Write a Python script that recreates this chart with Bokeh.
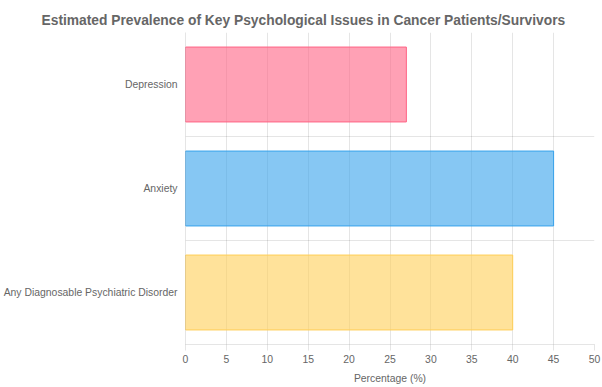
from bokeh.plotting import figure
from bokeh.models import ColumnDataSource, Range1d, FactorRange, FixedTicker, Title
from bokeh.embed import file_html
from bokeh.resources import INLINE

# ---- data ----
categories = ["Depression", "Anxiety", "Any Diagnosable Psychiatric Disorder"]
values = [27, 45, 40]
fill_colors = ["rgba(255, 99, 132, 0.6)", "rgba(54, 162, 235, 0.6)", "rgba(255, 206, 86, 0.6)"]
line_colors = ["rgb(255, 99, 132)", "rgb(54, 162, 235)", "rgb(255, 206, 86)"]
x_ticks = [0, 5, 10, 15, 20, 25, 30, 35, 40, 45, 50]
title_text = "Estimated Prevalence of Key Psychological Issues in Cancer Patients/Survivors"
x_label = "Percentage (%)"

FONT = "Liberation Sans"
TXT = "#666666"
GRID = "rgba(0, 0, 0, 0.1)"
TICK_FS = "10.4px"

order = list(reversed(categories))  # top to bottom as in the reference
src = ColumnDataSource(dict(cat=categories, val=values, fill=fill_colors, line=line_colors))

p = figure(width=602, height=387, output_backend="svg", toolbar_location=None,
           y_range=FactorRange(*order, range_padding=0), x_range=Range1d(0, 50),
           min_border_left=184, min_border_right=8, min_border_top=32, min_border_bottom=43)
p.title = None
t = Title(text=title_text, text_font=FONT, text_font_size="13.8px", text_font_style="bold",
          text_color=TXT, align="left", offset=-144, standoff=5, vertical_align="top")
p.add_layout(t, "above")

p.hbar(y="cat", right="val", left=0, height=0.72, source=src,
       fill_color="fill", line_color="line", line_width=1)

p.outline_line_color = None
p.background_fill_color = "white"
p.border_fill_color = "white"

# x axis
p.xaxis.ticker = FixedTicker(ticks=x_ticks)
p.xaxis.axis_label = x_label
p.xaxis.axis_label_text_font = FONT
p.xaxis.axis_label_text_font_size = TICK_FS
p.xaxis.axis_label_text_font_style = "normal"
p.xaxis.axis_label_text_color = TXT
p.xaxis.axis_label_standoff = 7
p.xaxis.major_label_text_font = FONT
p.xaxis.major_label_text_font_size = TICK_FS
p.xaxis.major_label_text_color = TXT
p.xaxis.major_label_standoff = 4
p.xaxis.major_tick_out = 6
p.xaxis.major_tick_in = 0
p.xaxis.minor_tick_out = 0
p.xaxis.minor_tick_in = 0
p.xaxis.major_tick_line_color = GRID
p.xaxis.axis_line_color = GRID

# y axis
p.yaxis.major_label_text_font = FONT
p.yaxis.major_label_text_font_size = TICK_FS
p.yaxis.major_label_text_color = TXT
p.yaxis.major_label_standoff = 8
p.yaxis.major_tick_out = 0
p.yaxis.major_tick_in = 0
p.yaxis.axis_line_color = GRID

# grids
p.xgrid.ticker = FixedTicker(ticks=x_ticks)
p.xgrid.grid_line_color = GRID
p.ygrid.ticker = FixedTicker(ticks=list(range(len(categories) + 1)))
p.ygrid.grid_line_color = GRID

open("out.html", "w").write(file_html(p, INLINE))
